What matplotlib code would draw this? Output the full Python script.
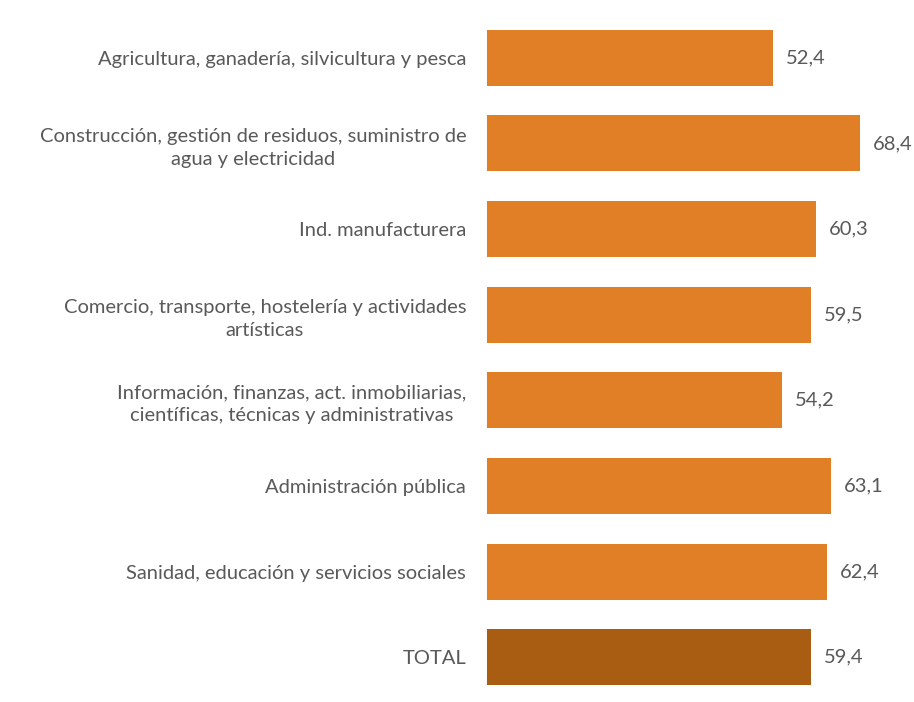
import matplotlib.pyplot as plt
import numpy as np

plt.rcParams['font.family'] = ['Lato', 'DejaVu Sans']

sectores = [
    'Agricultura, ganadería, silvicultura y pesca',
    'Construcción, gestión de residuos, suministro de\nagua y electricidad',
    'Ind. manufacturera',
    'Comercio, transporte, hostelería y actividades\nartísticas',
    'Información, finanzas, act. inmobiliarias,\ncientíficas, técnicas y administrativas',
    'Administración pública',
    'Sanidad, educación y servicios sociales',
    'TOTAL',
]
valores = [52.4, 68.4, 60.3, 59.5, 54.2, 63.1, 62.4, 59.4]

naranja = '#E07F26'
marron = '#A85D12'
gris = '#595959'
colores = [naranja] * 7 + [marron]

fig = plt.figure(figsize=(9.14, 7.02), dpi=100)
ax = fig.add_axes([487 / 914, 2 / 702, 413 / 914, 685 / 702])

y = np.arange(len(sectores))
ax.barh(y, valores, height=0.655, color=colores)

for yi, v in zip(y, valores):
    ax.text(v + 2.4, yi, f'{v:.1f}'.replace('.', ','), va='center', ha='left',
            fontsize=14.5, color=gris)

ax.set_yticks(y)
ax.set_yticklabels(sectores, fontsize=14.5, color=gris, ha='right',
                   multialignment='center', linespacing=1.4)
ax.tick_params(axis='y', length=0, pad=15)
ax.set_xticks([])
ax.set_xlim(0, 75.8)
ax.set_ylim(len(sectores) - 0.5, -0.5)
for s in ax.spines.values():
    s.set_visible(False)

fig.savefig('out.png', dpi=100)
